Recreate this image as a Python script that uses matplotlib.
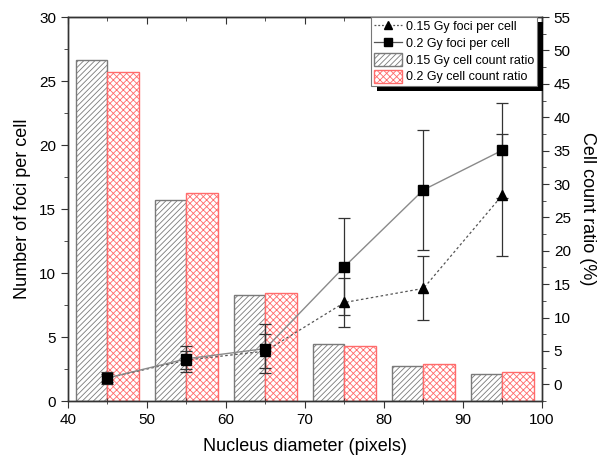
import numpy as np
import matplotlib.pyplot as plt
from matplotlib.ticker import MultipleLocator
from matplotlib.lines import Line2D
from matplotlib.patches import Rectangle
from matplotlib.transforms import IdentityTransform

plt.rcParams['font.family'] = ['Liberation Sans', 'DejaVu Sans']
plt.rcParams['hatch.linewidth'] = 0.6

# nucleus diameter bins
diam = [45, 55, 65, 75, 85, 95]

# foci per cell (left axis)
foci_015 = [1.8, 3.2, 3.9, 7.7, 8.8, 16.1]
err_015 = [0.3, 0.7, 1.3, 1.9, 2.5, 4.8]
foci_02 = [1.8, 3.3, 4.1, 10.5, 16.5, 19.6]
err_02 = [0.5, 1.0, 1.9, 3.8, 4.7, 3.7]

# cell count ratio in % (right axis)
ratio_015 = [48.6, 27.6, 13.4, 6.1, 2.7, 1.6]
ratio_02 = [46.8, 28.6, 13.7, 5.7, 3.1, 1.9]

fig = plt.figure(figsize=(5.98, 4.62), dpi=100)
ax = fig.add_axes([0.1137, 0.132, 0.7926, 0.831])
ax2 = ax.twinx()

rmin = -2.5
x = np.array(diam)
b1 = ax2.bar(x - 4, np.array(ratio_015) - rmin, width=4, bottom=rmin, align='edge',
             facecolor='white', edgecolor='#7a7a7a', hatch='//////', linewidth=1.0)
b2 = ax2.bar(x, np.array(ratio_02) - rmin, width=4, bottom=rmin, align='edge',
             facecolor='white', edgecolor='#ff6b6b', hatch='xxxxx', linewidth=1.0)
ax2.set_ylim(rmin, 55)

# foci lines on top of bars
ax.set_zorder(ax2.get_zorder() + 1)
ax.patch.set_visible(False)

ax.errorbar(diam, foci_015, yerr=err_015, color='#555555', linestyle=(0, (2, 2)),
            linewidth=0.9, marker='^', markersize=7, mfc='black', mec='black',
            ecolor='#333333', elinewidth=0.9, capsize=4, capthick=0.9)
ax.errorbar(diam, foci_02, yerr=err_02, color='#8a8a8a', linestyle='-',
            linewidth=1.0, marker='s', markersize=6.5, mfc='black', mec='black',
            ecolor='#333333', elinewidth=0.9, capsize=4, capthick=0.9)

ax.set_xlim(40, 100)
ax.set_ylim(0, 30)
ax.xaxis.set_major_locator(MultipleLocator(10))
ax.xaxis.set_minor_locator(MultipleLocator(5))
ax.yaxis.set_major_locator(MultipleLocator(5))
ax.yaxis.set_minor_locator(MultipleLocator(2.5))
ax2.yaxis.set_major_locator(MultipleLocator(5))
ax2.yaxis.set_minor_locator(MultipleLocator(2.5))

ax.tick_params(axis='both', which='major', direction='out', length=5, labelsize=11, color='#333333')
ax.tick_params(axis='y', which='minor', direction='out', length=3, color='#333333')
ax.tick_params(axis='x', which='minor', direction='inout', length=5, color='#333333')
ax2.tick_params(axis='y', which='major', direction='out', length=5, labelsize=11, color='#333333')
ax2.tick_params(axis='y', which='minor', direction='out', length=3, color='#333333')

# top axis: inward ticks
sec = ax.secondary_xaxis('top')
sec.xaxis.set_major_locator(MultipleLocator(10))
sec.xaxis.set_minor_locator(MultipleLocator(5))
sec.tick_params(which='major', direction='in', length=5, labeltop=False, color='#333333')
sec.tick_params(which='minor', direction='in', length=3, color='#333333')

for a in (ax, ax2):
    for s in a.spines.values():
        s.set_color('#333333')
        s.set_linewidth(1.0)

ax.set_xlabel('Nucleus diameter (pixels)', fontsize=13, labelpad=8)
ax.set_ylabel('Number of foci per cell', fontsize=13, labelpad=6)
ax2.set_ylabel('Cell count ratio (%)', fontsize=13, rotation=270, labelpad=18)

# legend with proxy handles (no error bars in the key)
h1 = Line2D([], [], color='#555555', linestyle=(0, (1.5, 1.5)), linewidth=0.9,
            marker='^', markersize=6, mfc='black', mec='black')
h2 = Line2D([], [], color='#555555', linestyle='-', linewidth=0.9,
            marker='s', markersize=5.5, mfc='black', mec='black')
h3 = Rectangle((0, 0), 1, 1, facecolor='white', edgecolor='#7a7a7a', hatch='//////', linewidth=1.0)
h4 = Rectangle((0, 0), 1, 1, facecolor='white', edgecolor='#ff6b6b', hatch='xxxxx', linewidth=1.0)

leg = ax.legend([h1, h2, h3, h4],
                ['0.15 Gy foci per cell', '0.2 Gy foci per cell',
                 '0.15 Gy cell count ratio', '0.2 Gy cell count ratio'],
                loc='upper right', bbox_to_anchor=(0.9895, 1.0), borderaxespad=0,
                fontsize=9, fancybox=False, framealpha=1, edgecolor='#777777',
                handlelength=2.3, handleheight=1.2, labelspacing=0.25,
                borderpad=0.2, handletextpad=0.3)
leg.get_frame().set_linewidth(0.8)
leg.set_zorder(6)

# black drop shadow under the legend box
fig.canvas.draw()
bb = leg.get_window_extent()
shadow = Rectangle((bb.x0 + 6, bb.y0 - 5), bb.width, bb.height, transform=IdentityTransform(),
                   facecolor='black', edgecolor='none', zorder=5.9, clip_on=False)
ax.add_artist(shadow)

fig.savefig('out.png', dpi=100)
